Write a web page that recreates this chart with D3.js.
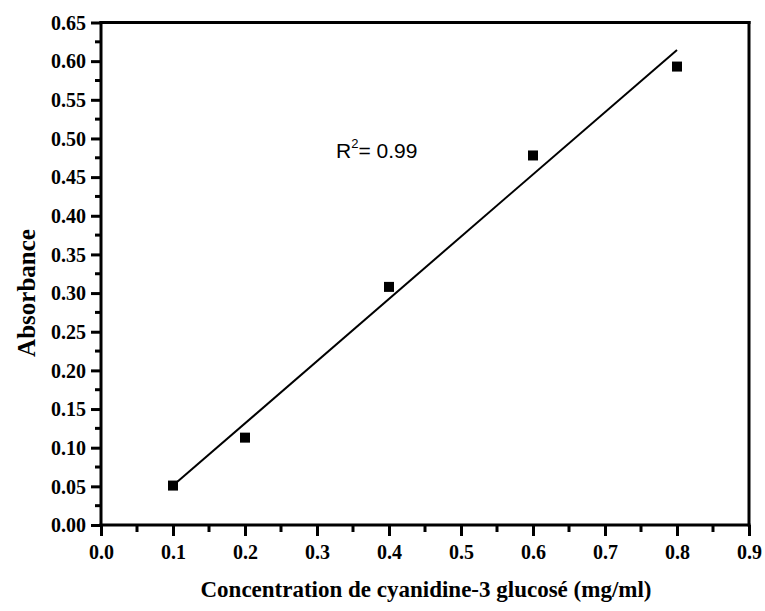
<!DOCTYPE html>
<html>
<head>
<meta charset="utf-8">
<script src="https://cdn.jsdelivr.net/npm/d3@7/dist/d3.min.js"></script>
<style>
  html, body { margin: 0; padding: 0; background: #fff; }
  svg { display: block; }
</style>
</head>
<body>
<svg id="chart" width="765" height="611"></svg>
<script>
// Calibration data: concentration (mg/ml) vs absorbance
const concentration = [0.1, 0.2, 0.4, 0.6, 0.8];
const absorbance = [0.051, 0.113, 0.308, 0.478, 0.593];
const xTicks = [0, 0.1, 0.2, 0.3, 0.4, 0.5, 0.6, 0.7, 0.8, 0.9];
const yTicks = [0, 0.05, 0.1, 0.15, 0.2, 0.25, 0.3, 0.35, 0.4, 0.45, 0.5, 0.55, 0.6, 0.65];
const xMinor = [0.05, 0.15, 0.25, 0.35, 0.45, 0.55, 0.65, 0.75, 0.85];
const yMinor = [0.025, 0.075, 0.125, 0.175, 0.225, 0.275, 0.325, 0.375, 0.425, 0.475, 0.525, 0.575, 0.625];
const r2Label = "0.99";

const svg = d3.select("#chart");
const m = { left: 101, right: 749, top: 22.5, bottom: 525 };

const x = d3.scaleLinear().domain([0, 0.9]).range([m.left, m.right]);
const y = d3.scaleLinear().domain([0, 0.65]).range([m.bottom, m.top]);

// Least-squares fit through the measured points
const n = concentration.length;
const mx = d3.mean(concentration), my = d3.mean(absorbance);
let sxy = 0, sxx = 0;
for (let i = 0; i < n; i++) {
  sxy += (concentration[i] - mx) * (absorbance[i] - my);
  sxx += (concentration[i] - mx) ** 2;
}
const slope = sxy / sxx, intercept = my - slope * mx;
const xFit = d3.extent(concentration);

const serif = "'Liberation Serif', 'Times New Roman', serif";

// Frame: top and right edges
svg.append("line").attr("x1", m.left).attr("x2", m.right).attr("y1", m.top).attr("y2", m.top)
  .attr("stroke", "#000").attr("stroke-width", 3).attr("stroke-linecap", "square");
svg.append("line").attr("x1", m.right).attr("x2", m.right).attr("y1", m.top).attr("y2", m.bottom)
  .attr("stroke", "#000").attr("stroke-width", 3).attr("stroke-linecap", "square");

// Bottom axis
const gx = svg.append("g").attr("transform", `translate(0,${m.bottom})`)
  .call(d3.axisBottom(x).tickValues(xTicks).tickSize(11).tickPadding(9).tickFormat(d3.format(".1f")));
// Left axis
const gy = svg.append("g").attr("transform", `translate(${m.left},0)`)
  .call(d3.axisLeft(y).tickValues(yTicks).tickSize(10).tickPadding(5).tickFormat(d3.format(".2f")));

[gx, gy].forEach(g => {
  g.select(".domain").attr("stroke", "#000").attr("stroke-width", 3);
  g.selectAll(".tick line").attr("stroke", "#000").attr("stroke-width", 3);
  g.selectAll(".tick text").attr("fill", "#000")
    .style("font-family", serif).style("font-weight", "bold").style("font-size", "20px");
});
gx.select(".domain").attr("d", `M${m.left - 1.5},0H${m.right + 1.5}`);
gy.select(".domain").attr("d", `M0,${m.bottom + 1.5}V${m.top - 1.5}`);
gx.selectAll(".tick text").attr("dy", "0.71em");
gy.selectAll(".tick text").attr("dy", "0.34em");

// Minor ticks
gx.selectAll(".minor").data(xMinor).enter().append("line")
  .attr("x1", d => x(d)).attr("x2", d => x(d)).attr("y1", 0).attr("y2", 7)
  .attr("stroke", "#000").attr("stroke-width", 3);
gy.selectAll(".minor").data(yMinor).enter().append("line")
  .attr("y1", d => y(d)).attr("y2", d => y(d)).attr("x1", 0).attr("x2", -6)
  .attr("stroke", "#000").attr("stroke-width", 3);

// Fit line
svg.append("line")
  .attr("x1", x(xFit[0])).attr("y1", y(intercept + slope * xFit[0]))
  .attr("x2", x(xFit[1])).attr("y2", y(intercept + slope * xFit[1]))
  .attr("stroke", "#000").attr("stroke-width", 2);

// Data markers
const s = 10;
svg.selectAll(".pt").data(concentration).enter().append("rect")
  .attr("x", d => x(d) - s / 2)
  .attr("y", (d, i) => y(absorbance[i]) - s / 2)
  .attr("width", s).attr("height", s).attr("fill", "#000");

// R² annotation
const r2 = svg.append("text").attr("x", 336).attr("y", 158)
  .style("font-family", "'Liberation Sans', Arial, sans-serif").style("font-size", "21px").attr("fill", "#000");
r2.append("tspan").text("R");
r2.append("tspan").attr("dy", -10).style("font-size", "13px").text("2");
r2.append("tspan").attr("dy", 10).text("= " + r2Label);

// Axis titles
svg.append("text").attr("x", (m.left + m.right) / 2 + 1).attr("y", 597)
  .attr("text-anchor", "middle").attr("fill", "#000")
  .style("font-family", serif).style("font-weight", "bold").style("font-size", "23px")
  .text("Concentration de cyanidine-3 glucosé (mg/ml)");
svg.append("text").attr("transform", "translate(35,293) rotate(-90)")
  .attr("text-anchor", "middle").attr("fill", "#000")
  .style("font-family", serif).style("font-weight", "bold").style("font-size", "25px")
  .text("Absorbance");
</script>
</body>
</html>
